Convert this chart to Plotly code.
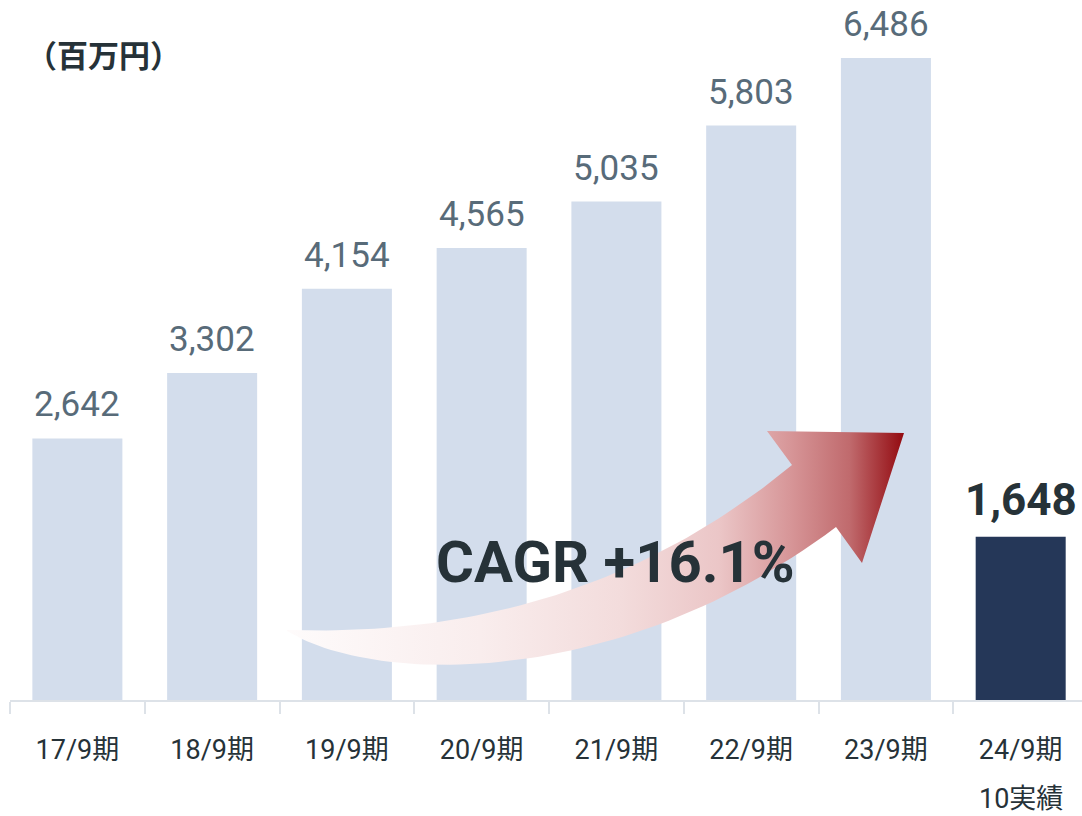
import numpy as np
import plotly.graph_objects as go

# data
periods = ["17/9期", "18/9期", "19/9期", "20/9期", "21/9期", "22/9期", "23/9期", "24/9期"]
sales = [2642, 3302, 4154, 4565, 5035, 5803, 6486, 1648]
sub_label = "10実績"
unit_label = "（百万円）"
cagr_label = "CAGR +16.1%"

BAR_LIGHT = "#d3ddec"
BAR_DARK = "#253758"
TEXT_DARK = "#263238"
TEXT_GREY = "#586b79"
AXIS_GREY = "#dde2e8"
FONT = "Roboto, Noto Sans CJK JP, sans-serif"

W, H = 1082, 816
M_L, M_R, M_T, M_B = 10, 0, 7, 116


def bezier(points, n=60):
    pts = np.array(points, dtype=float)
    t = np.linspace(0, 1, n)[:, None]
    if len(pts) == 3:
        return (1 - t) ** 2 * pts[0] + 2 * (1 - t) * t * pts[1] + t ** 2 * pts[2]
    return ((1 - t) ** 3 * pts[0] + 3 * (1 - t) ** 2 * t * pts[1]
            + 3 * (1 - t) * t ** 2 * pts[2] + t ** 3 * pts[3])


def arrow_outline():
    # decorative curved arrow, in pixel space of the plot area
    upper = bezier([(287, 630), (580, 640), (792, 465)])
    head = np.array([(767, 431), (904, 433), (862, 563)])
    lower = bezier([(836, 527), (620, 690), (375, 685), (287, 631)])
    pts = np.vstack([upper, head, lower])
    return pts[:, 0], pts[:, 1]


colors = [BAR_LIGHT] * (len(periods) - 1) + [BAR_DARK]

fig = go.Figure()
fig.add_trace(go.Bar(x=periods, y=sales, marker=dict(color=colors, line=dict(width=0)),
                     hoverinfo="skip", showlegend=False))

ax, ay = arrow_outline()
fig.add_trace(go.Scatter(
    x=ax, y=ay, xaxis="x2", yaxis="y2", mode="lines", line=dict(width=0),
    fill="toself", fillcolor="#f0d5d5",
    fillgradient=dict(type="horizontal", start=287, stop=904,
                      colorscale=[[0, "#fefbfb"], [0.313, "#f9eded"], [0.54, "#f3dcdc"],
                                  [0.70, "#ebc6c7"], [0.815, "#d79698"], [0.912, "#c06a6d"],
                                  [1, "#930a10"]]),
    hoverinfo="skip", showlegend=False))

annotations = []
for i, (p, v) in enumerate(zip(periods, sales)):
    last = i == len(periods) - 1
    annotations.append(dict(
        x=p, y=v, xref="x", yref="y", text=f"{v:,}", showarrow=False,
        yanchor="bottom", yshift=9 if last else 11,
        font=dict(family=FONT, size=44 if last else 35,
                  color=TEXT_DARK if last else TEXT_GREY, weight="bold" if last else "normal")))

annotations.append(dict(x=periods[-1], y=0, xref="x", yref="paper", text=sub_label,
                        showarrow=False, yanchor="middle", yshift=-99,
                        font=dict(family=FONT, size=27, color=TEXT_DARK)))
annotations.append(dict(x=24, y=53, xref="x2", yref="y2", text=unit_label, showarrow=False,
                        xanchor="left", yanchor="middle",
                        font=dict(family="Noto Sans CJK JP", size=31, color=TEXT_DARK, weight="bold")))
annotations.append(dict(x=615, y=562, xref="x2", yref="y2", text=f"<b>{cagr_label}</b>",
                        showarrow=False, xanchor="center", yanchor="middle",
                        font=dict(family=FONT, size=58, color=TEXT_DARK)))

fig.update_layout(
    width=W, height=H,
    margin=dict(l=M_L, r=M_R, t=M_T, b=M_B),
    plot_bgcolor="white", paper_bgcolor="white",
    bargap=0.332,
    annotations=annotations,
    xaxis=dict(type="category", categoryorder="array", categoryarray=periods,
               range=[-0.5, 7.455], showline=True, linecolor=AXIS_GREY, linewidth=2,
               ticks="outside", tickson="boundaries", ticklen=12, tickcolor=AXIS_GREY,
               tickwidth=2, showgrid=False, zeroline=False, ticklabelstandoff=25,
               tickfont=dict(family=FONT, size=27, color=TEXT_DARK)),
    yaxis=dict(range=[0, 7000], visible=False, showgrid=False, zeroline=False),
    xaxis2=dict(overlaying="x", anchor="y2", range=[M_L, W - M_R], visible=False),
    yaxis2=dict(overlaying="y", anchor="x2", range=[H - M_B, M_T], visible=False),
)

fig.write_html("out.html", config={"displayModeBar": False},
               post_script="document.body.style.margin='0';")
